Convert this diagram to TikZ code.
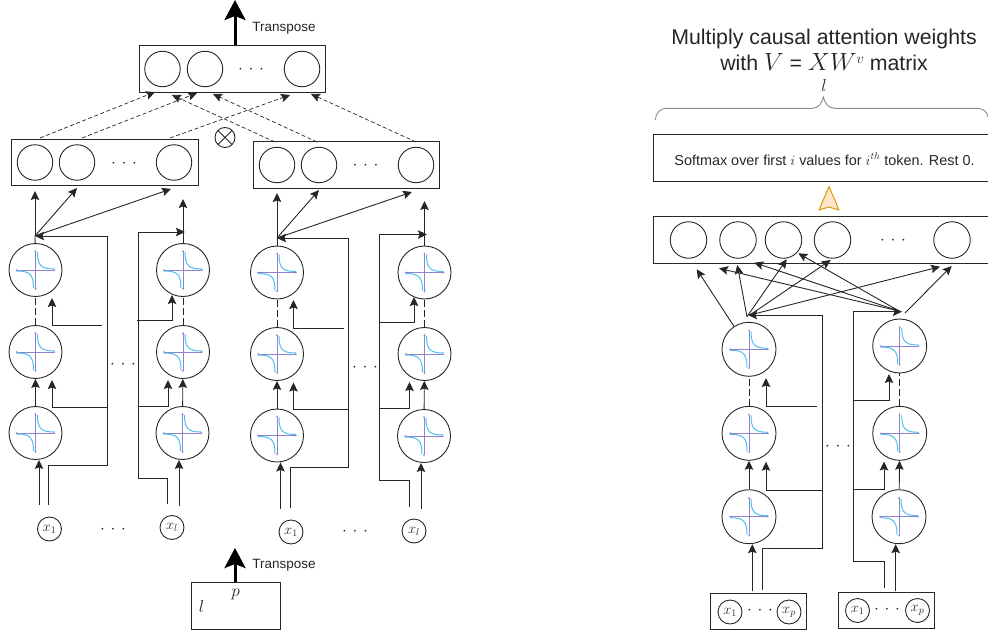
\documentclass[tikz,border=0pt]{standalone}
\usepackage{fontspec}
\setmainfont{Liberation Sans}
\usetikzlibrary{arrows.meta}

\definecolor{axiscol}{HTML}{8E83CC}
\definecolor{curvecol}{HTML}{4FC0EC}
\definecolor{braceol}{HTML}{8C8C8C}
\definecolor{tipfill}{HTML}{FFE6CC}
\definecolor{tipline}{HTML}{D79B00}

\newcommand{\rowdots}{$\cdot\hspace{5.8pt}{\cdot}\hspace{5.8pt}{\cdot}$}

\tikzset{
    every path/.style={line width=.9pt},
    arr/.style={-{Stealth[length=9pt,width=8.5pt,inset=1.5pt]}},
    dasharr/.style={arr, line width=.7pt, dash pattern=on 4pt off 2.5pt},
    bigarr/.style={-{Stealth[length=20pt,width=21pt,inset=4pt]}, line width=3pt, draw=black},
    link/.style={dash pattern=on 7pt off 3pt, line width=.7pt},
    rowbox/.style={draw, minimum height=46.5pt, inner sep=0pt},
    unit/.style={draw, circle, inner sep=0pt, minimum size=35.5pt},
    inputvar/.style={draw, circle, inner sep=0pt, minimum size=24pt, font=\fontsize{14.4}{15}\selectfont},
    dotsrow/.style={inner sep=0pt, font=\fontsize{17.28}{18}\selectfont},
    small/.style={font=\fontsize{13.5}{14}\selectfont, inner sep=0pt},
    otimes/.style={draw, circle, inner sep=0pt, minimum size=20pt, path picture={
        \draw (path picture bounding box.north west) -- (path picture bounding box.south east);
        \draw (path picture bounding box.north east) -- (path picture bounding box.south west);
    }},
    hyper/.style={draw, circle, inner sep=0pt, minimum size=53pt, path picture={
        \begin{scope}[shift={(path picture bounding box.center)}]
            \draw[axiscol, line width=.8pt, {Stealth[length=2pt,width=2pt]}-{Stealth[length=2pt,width=2pt]}] (-20,0) -- (20,0);
            \draw[axiscol, line width=.8pt, {Stealth[length=2pt,width=2pt]}-{Stealth[length=2pt,width=2pt]}] (0,-20) -- (0,20);
            \draw[curvecol, line width=1pt] (2,-18) .. controls (2,-4) and (6,-1) .. (19,-1);
            \draw[curvecol, line width=1pt] (-19,1) .. controls (-6,1) and (-2,4) .. (-2,18);
        \end{scope}
    }},
}

\begin{document}
\begin{tikzpicture}[x=1pt, y=-1pt, color=black!85]
    \useasboundingbox (0,0) rectangle (988,634);

    \node[rowbox, minimum width=186pt] (T) at (232.5,69) {};
    \node[unit] (t1) at (162.5,69) {};
    \node[unit] (t2) at (205,69) {};
    \node[unit] (t3) at (302,69) {};
    \node[dotsrow] (td) at (251,70) {\rowdots};
    \coordinate (tout) at (235,0);
    \draw[bigarr] (T.north -| tout) -- (tout);
    \node[small, anchor=west] (tl) at (252,28) {Transpose};

    \node[rowbox, minimum width=186.5pt] (L) at (104.75,162.5) {};
    \node[unit] (l1) at (35,162.5) {};
    \node[unit] (l2) at (77,162.5) {};
    \node[unit] (l3) at (174,162.5) {};
    \node[dotsrow] (ld) at (124,163.5) {\rowdots};

    \node[rowbox, minimum width=186pt] (R) at (346.5,165) {};
    \node[unit] (r1) at (277,165) {};
    \node[unit] (r2) at (319,165) {};
    \node[unit] (r3) at (416,165) {};
    \node[dotsrow] (rd) at (365.5,166) {\rowdots};

    \node[otimes] (mul) at (225,137.5) {};

    \coordinate (ls1) at (40,138);   \coordinate (le1) at (155,92);
    \coordinate (ls2) at (82,138);   \coordinate (le2) at (197,93);
    \coordinate (ls3) at (170,138);  \coordinate (le3) at (290,95);
    \coordinate (rs1) at (275,142);  \coordinate (re1) at (172,95);
    \coordinate (rs2) at (317,142);  \coordinate (re2) at (213,94);
    \coordinate (rs3) at (416,142);  \coordinate (re3) at (311,94);
    \draw[dasharr] (ls1) -- (le1);
    \draw[dasharr] (ls2) -- (le2);
    \draw[dasharr] (ls3) -- (le3);
    \draw[dasharr] (rs1) -- (re1);
    \draw[dasharr] (rs2) -- (re2);
    \draw[dasharr] (rs3) -- (re3);

    % first column
    \node[hyper] (a1) at (35.5,270) {};
    \node[hyper] (a2) at (35.5,352) {};
    \node[hyper] (a3) at (35.5,433) {};
    \coordinate (ah) at (35,236);
    \coordinate (at1) at (35,191);
    \coordinate (at2) at (77,188);
    \coordinate (at3) at (171,189);
    \coordinate (ai) at (39,505);
    \coordinate (aw) at (48,505);
    \coordinate (ak) at (107,465);
    \coordinate (ac) at (107,236);
    \coordinate (ab1) at (107,407.5);
    \coordinate (ab2) at (102,325.5);
    \coordinate (ae1) at (52,380);
    \coordinate (ae2) at (52,298);
    \draw (a1) -- (ah);
    \draw[arr] (ah) -- (at1);
    \draw[arr] (ah) -- (at2);
    \draw[arr] (ah) -- (at3);
    \draw[arr] (aw) |- (ak) -- (ac) -- (ah);
    \draw[arr] (ab1) -| (ae1);
    \draw[arr] (ab2) -| (ae2);
    \draw[arr] (ai) -- (ai |- a3.south);
    \draw[arr] (a3) -- (a2);
    \draw[link] (a2) -- (a1);

    % second column
    \node[hyper] (b1) at (183,270) {};
    \node[hyper] (b2) at (183,352) {};
    \node[hyper] (b3) at (182.5,433) {};
    \coordinate (bt) at (183,199);
    \coordinate (bi) at (179,506);
    \coordinate (bw) at (167.5,504);
    \coordinate (bk) at (138,478);
    \coordinate (bc) at (138,232);
    \coordinate (bh) at (185,232);
    \coordinate (bb1) at (138,406);
    \coordinate (bb2) at (137,320);
    \coordinate (be1) at (168,380);
    \coordinate (be2) at (172,295);
    \draw[arr] (b1) -- (bt);
    \draw[arr] (bw) |- (bk) -- (bc) -- (bh);
    \draw[arr] (bb1) -| (be1);
    \draw[arr] (bb2) -| (be2);
    \draw[arr] (bi) -- (bi |- b3.south);
    \draw[arr] (b3) -- (b2);
    \draw[link] (b2) -- (b1);

    % third column
    \node[hyper] (c1) at (277,272.5) {};
    \node[hyper] (c2) at (277,354) {};
    \node[hyper] (c3) at (277,435.5) {};
    \coordinate (ch) at (277,238);
    \coordinate (ct1) at (277,193);
    \coordinate (ct2) at (319,190);
    \coordinate (ct3) at (412,192);
    \coordinate (ci) at (280.5,509);
    \coordinate (cw) at (290,508);
    \coordinate (ck) at (348.5,467);
    \coordinate (cc) at (348.5,238);
    \coordinate (cb1) at (349,409.5);
    \coordinate (cb2) at (344,328);
    \coordinate (ce1) at (293.5,382.5);
    \coordinate (ce2) at (293.5,300);
    \draw (c1) -- (ch);
    \draw[arr] (ch) -- (ct1);
    \draw[arr] (ch) -- (ct2);
    \draw[arr] (ch) -- (ct3);
    \draw[arr] (cw) |- (ck) -- (cc) -- (ch);
    \draw[arr] (cb1) -| (ce1);
    \draw[arr] (cb2) -| (ce2);
    \draw[arr] (ci) -- (ci |- c3.south);
    \draw[arr] (c3) -- (c2);
    \draw[link] (c2) -- (c1);

    % fourth column
    \node[hyper] (d1) at (424.5,272.5) {};
    \node[hyper] (d2) at (424.5,354) {};
    \node[hyper] (d3) at (424,436) {};
    \coordinate (dt) at (424.5,201);
    \coordinate (di) at (421,509);
    \coordinate (dw) at (409.5,507);
    \coordinate (dk) at (379,480);
    \coordinate (dc) at (379,234.5);
    \coordinate (dh) at (427,234.5);
    \coordinate (db1) at (379,408.5);
    \coordinate (db2) at (379,322);
    \coordinate (de1) at (409.5,382);
    \coordinate (de2) at (414,297);
    \draw[arr] (d1) -- (dt);
    \draw[arr] (dw) |- (dk) -- (dc) -- (dh);
    \draw[arr] (db1) -| (de1);
    \draw[arr] (db2) -| (de2);
    \draw[arr] (di) -- (di |- d3.south);
    \draw[arr] (d3) -- (d2);
    \draw[link] (d2) -- (d1);

    \node[dotsrow] (abd) at (123,365) {\rowdots};
    \node[dotsrow] (cdd) at (365,367.5) {\rowdots};

    \node[inputvar] (xa) at (49.5,529) {$x_1$};
    \node[dotsrow] (xabd) at (113,530) {\rowdots};
    \node[inputvar] (xb) at (172,527.5) {$x_l$};
    \node[inputvar] (xc) at (291,532) {$x_1$};
    \node[dotsrow] (xcdd) at (355,532) {\rowdots};
    \node[inputvar] (xd) at (414,531) {$x_l$};

    \node[draw, minimum width=89pt, minimum height=46.5pt, inner sep=0pt] (B) at (236,605.75) {};
    \coordinate (bout) at (235,548);
    \draw[bigarr] (B.north -| bout) -- (bout);
    \node[small, anchor=west] (bl) at (252,565) {Transpose};
    \node[inner sep=0pt, font=\fontsize{17.28}{18}\selectfont] (pl) at (235.5,594) {$p$};
    \node[inner sep=0pt, font=\fontsize{17.28}{18}\selectfont] (ll) at (201.5,606) {$l$};

    % attention side
    \node[align=center, inner sep=0pt, font=\fontsize{21.3}{26}\selectfont] (title) at (824,50) {Multiply causal attention weights\\with {\fontsize{24.88}{26}\selectfont$V$} = {\fontsize{24.88}{26}\selectfont$XW$}\raisebox{7pt}{\fontsize{14.4}{15}\selectfont$v$} matrix};
    \node[inner sep=0pt, font=\fontsize{17.28}{18}\selectfont] (tl2) at (824,86) {$l$};
    \draw[braceol] (655.5,120) .. controls (656,112) and (660,108.3) .. (668,108.3) -- (812,108.3) .. controls (819,108.3) and (822,103) .. (823.3,97) .. controls (825,103) and (828,108.3) .. (835,108.3) -- (976,108.3) .. controls (984,108.3) and (987,112) .. (988,117);

    \node[rowbox, minimum width=334.5pt, minimum height=47.5pt] (S) at (820.75,157.75) {};
    \node[inner sep=0pt, font=\fontsize{14.4}{15}\selectfont] (stxt) at (824.5,159) {Softmax over first $i$ values for $i^{th}$ token. Rest 0.};
    \draw[tipline, fill=tipfill, line width=1pt, line join=round] (829,186.5) -- (839,210) -- (829,207) -- (819,210) -- cycle;

    \node[rowbox, minimum width=334.5pt, minimum height=47.5pt] (M) at (820.75,239.75) {};
    \node[unit, minimum size=36.5pt] (m1) at (688.5,240) {};
    \node[unit, minimum size=36.5pt] (m2) at (738,240) {};
    \node[unit, minimum size=36.5pt] (m3) at (783.5,240) {};
    \node[unit, minimum size=36.5pt] (m4) at (832.5,240) {};
    \node[unit, minimum size=36.5pt] (m5) at (952,240) {};
    \node[dotsrow] (md) at (893,241) {\rowdots};

    \node[hyper, minimum size=54pt] (e1) at (749,349.3) {};
    \node[hyper, minimum size=54pt] (e2) at (749,433.3) {};
    \node[hyper, minimum size=54pt] (e3) at (749,516.7) {};
    \node[hyper, minimum size=54pt] (f1) at (899.7,346) {};
    \node[hyper, minimum size=54pt] (f2) at (899.7,433.3) {};
    \node[hyper, minimum size=54pt] (f3) at (899,516.7) {};

    \coordinate (eh) at (747,316.7);
    \coordinate (es) at (750,315);
    \coordinate (fh) at (899,311);
    \coordinate (et1) at (696.7,269.3);
    \coordinate (et2) at (737.3,265);
    \coordinate (et3) at (786.7,259.3);
    \coordinate (et4) at (830.7,260);
    \coordinate (et5) at (940,266.7);
    \coordinate (ft1) at (719,268.3);
    \coordinate (ft2) at (754.3,262.7);
    \coordinate (ft3) at (798.3,253.3);
    \coordinate (fs4) at (905,313);
    \coordinate (ft4) at (951.7,266);
    \draw[arr] (e1) -- (et1);
    \draw[arr] (eh) -- (et2);
    \draw[arr] (eh) -- (et3);
    \draw[arr] (es) -- (et4);
    \draw[arr] (es) -- (et5);
    \draw[arr] (fh) -- (ft1);
    \draw[arr] (fh) -- (ft2);
    \draw[arr] (fh) -- (ft3);
    \draw[arr] (fs4) -- (ft4);

    \coordinate (ei) at (752.3,591);
    \coordinate (ew) at (762,590);
    \coordinate (ek) at (822,548);
    \coordinate (ec) at (822,315);
    \coordinate (eb) at (748,315);
    \coordinate (eb1) at (822,490);
    \coordinate (eb2) at (817.3,406.7);
    \coordinate (ee1) at (766,461.7);
    \coordinate (ee2) at (766,378);
    \draw[arr] (ew) |- (ek) -- (ec) -- (eb);
    \draw[arr] (eb1) -| (ee1);
    \draw[arr] (eb2) -| (ee2);
    \draw[arr] (ei) -- (ei |- e3.south);
    \draw[arr] (e3) -- (e2);
    \draw[link] (e2) -- (e1);

    \coordinate (fi) at (895.7,591);
    \coordinate (fw) at (884,588);
    \coordinate (fk) at (853,561.7);
    \coordinate (fc) at (854,311.7);
    \coordinate (fb) at (902,311.7);
    \coordinate (fb1) at (853,489);
    \coordinate (fb2) at (854,400);
    \coordinate (fe1) at (884,461.5);
    \coordinate (fe2) at (889,374);
    \draw[arr] (fw) |- (fk) -- (fk |- fc) -- (fb);
    \draw[arr] (fb1) -| (fe1);
    \draw[arr] (fb2) -| (fe2);
    \draw[arr] (fi) -- (fi |- f3.south);
    \draw[arr] (f3) -- (f2);
    \draw[link] (f2) -- (f1);

    \node[dotsrow] (efd) at (838,447) {\rowdots};

    \node[draw, minimum width=95.6pt, minimum height=35.3pt, inner sep=0pt] (P1) at (758.5,611.35) {};
    \node[inputvar] (p1) at (730,612) {$x_1$};
    \node[inputvar] (p2) at (789,612) {$x_p$};
    \node[dotsrow] (p1d) at (760,611) {\rowdots};
    \node[draw, minimum width=95.5pt, minimum height=35.5pt, inner sep=0pt] (P2) at (886.25,610.25) {};
    \node[inputvar] (q1) at (857.5,610.5) {$x_1$};
    \node[inputvar] (q2) at (917.5,610.5) {$x_p$};
    \node[dotsrow] (q1d) at (887,610) {\rowdots};
\end{tikzpicture}
\end{document}
